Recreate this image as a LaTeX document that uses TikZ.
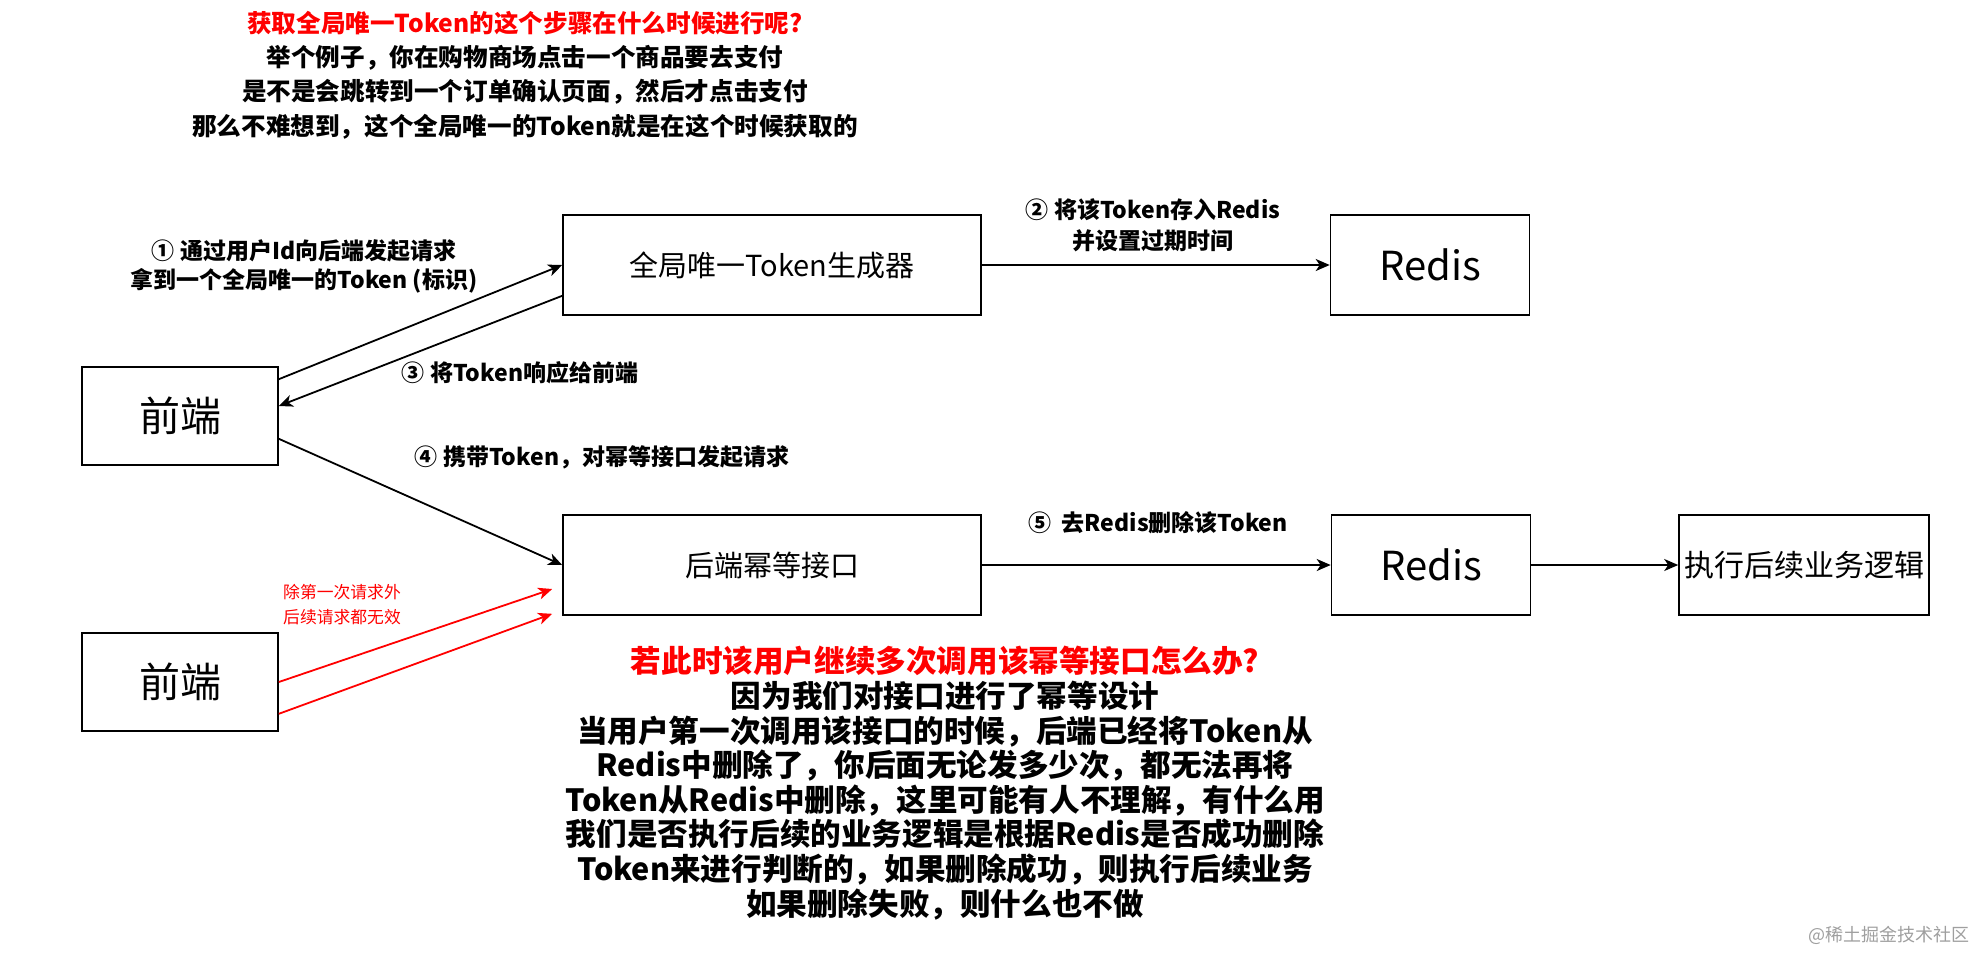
\documentclass[tikz,border=0pt]{standalone}
\usepackage{fontspec}
\setmainfont{Noto Sans CJK SC}
\usepackage{xcolor}
\usetikzlibrary{arrows.meta,positioning,calc}

\begin{document}
\begin{tikzpicture}[
x=0.5pt, y=-0.5pt,
font=\fontsize{12}{14}\selectfont,
box/.style={draw, line width=0.8pt, minimum height=50pt, inner sep=1pt, align=center},
wide/.style={box, minimum width=209pt, font=\fontsize{14.5}{17}\selectfont},
store/.style={box, minimum width=99.5pt, font=\fontsize{20}{24}\selectfont},
client/.style={box, minimum width=98pt, minimum height=49pt, font=\fontsize{20.5}{24}\selectfont},
arr/.style={-{Stealth[length=7pt, width=6pt, inset=2pt]}, line width=0.9pt},
badarr/.style={arr, red},
lbl/.style={align=center, font=\bfseries\fontsize{11.5}{14.5}\selectfont}
]
\useasboundingbox (0,0) rectangle (1984,954);

% Question on top
\node[align=center, font=\bfseries\fontsize{12.3}{17.2}\selectfont] (topnote) at (525,75)
{\textcolor{red}{获取全局唯一Token的这个步骤在什么时候进行呢?}\\
举个例子，你在购物商场点击一个商品要去支付\\
是不是会跳转到一个订单确认页面，然后才点击支付\\
那么不难想到，这个全局唯一的Token就是在这个时候获取的};

% Token side
\node[client] (front) at (180,416) {前端};
\node[wide] (gen) at (772,265) {全局唯一Token生成器};
\node[store] (redisA) at (1430,265) {Redis};

% Idempotent side
\node[wide] (idem) at (772,565) {后端幂等接口};
\node[store] (redisB) at (1431,565) {Redis};
\node[box, minimum width=125pt, font=\fontsize{15}{17}\selectfont] (biz) at (1804,565) {执行后续业务逻辑};
\node[client] (frontB) at (180,682) {前端};

% Steps
\draw[arr] ($(front.north east)+(0,13)$) -- (gen.west);
\node[lbl] (s1) at (304,266) {① 通过用户Id向后端发起请求\\拿到一个全局唯一的Token (标识)};

\draw[arr] (gen) -- (redisA);
\node[lbl] (s2) at (1153,225) {② 将该Token存入Redis\\[1pt]并设置过期时间};

\draw[arr] ($(gen.south west)+(0,-20)$) -- ($(front.east)+(0,-10)$);
\node[lbl] (s3) at (520,373) {③ 将Token响应给前端};

\draw[arr] ($(front.south east)+(0,-27)$) -- (idem.west);
\node[lbl] (s4) at (602,457) {④ 携带Token，对幂等接口发起请求};

\draw[arr] (idem) -- (redisB);
\node[lbl] (s5) at (1158,523) {⑤\ \ 去Redis删除该Token};

\draw[arr] (redisB) -- (biz);

% Repeated calls
\draw[badarr] (frontB.east) -- ($(idem.west)+(-10,24)$);
\draw[badarr] ($(frontB.south east)+(0,-18)$) -- ($(idem.south west)+(-10,-2)$);
\node[red, align=center, font=\fontsize{8.4}{12.5}\selectfont] (s6) at (342,605) {除第一次请求外\\后续请求都无效};

% Answer below
\node[align=center, font=\bfseries\fontsize{15.3}{17.3}\selectfont] (bottomnote) at (945,783)
{\textcolor{red}{若此时该用户继续多次调用该幂等接口怎么办?}\\
因为我们对接口进行了幂等设计\\
当用户第一次调用该接口的时候，后端已经将Token从\\
Redis中删除了，你后面无论发多少次，都无法再将\\
Token从Redis中删除，这里可能有人不理解，有什么用\\
我们是否执行后续的业务逻辑是根据Redis是否成功删除\\
Token来进行判断的，如果删除成功，则执行后续业务\\
如果删除失败，则什么也不做};

\node[anchor=east, text=gray!75, font=\fontsize{9}{10}\selectfont] (mark) at (1977,935) {@稀土掘金技术社区};

\end{tikzpicture}
\end{document}
